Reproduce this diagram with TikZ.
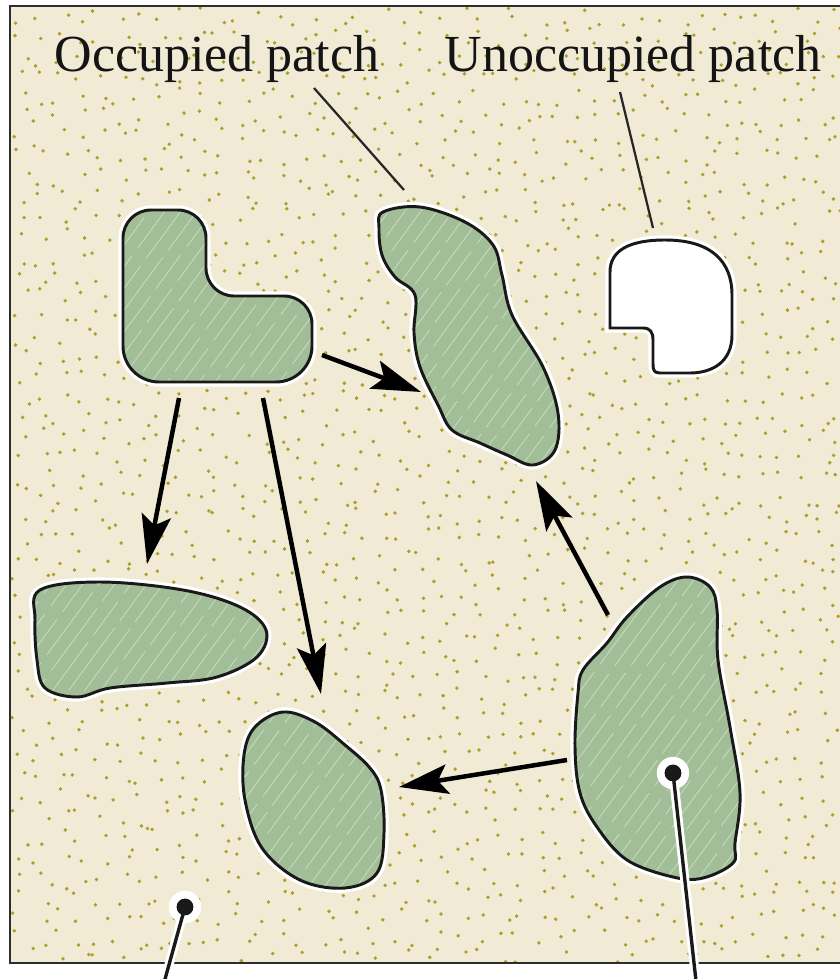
\documentclass[tikz,border=0pt]{standalone}
\usepackage{fontspec}
\setmainfont{Liberation Serif}
\usetikzlibrary{arrows.meta}
\definecolor{groundcol}{RGB}{241,235,214}
\definecolor{dotcol}{RGB}{172,158,40}
\definecolor{patchcol}{RGB}{162,190,152}
\definecolor{hatchcol}{RGB}{200,218,188}
\definecolor{framecol}{RGB}{45,45,45}
\newcommand{\greenpatch}[1]{%
  \path[halo] #1;
  \begin{scope}
    \clip #1;
    \fill[patchcol] (0,0) rectangle (840,979);
    \foreach \k in {-560,-544,...,700}{
      \pgfmathsetmacro\ph{int(70*rnd)}
      \draw[hatch, dash pattern=on 55pt off 6pt on 30pt off 7pt, dash phase=\ph pt] (\k,980) -- ++(720,-980);
    }
  \end{scope}
  \path[outline] #1;
}

\begin{document}
\begin{tikzpicture}[x=0.025cm, y=-0.025cm,
    halo/.style={draw=white, line width=6.5pt},
    outline/.style={draw=black!90, line width=2.1pt},
    hatch/.style={draw=hatchcol, line width=0.6pt},
    arr/.style={line width=3.2pt, -{Stealth[length=35pt, width=21pt, inset=7pt]}},
    leader/.style={draw=black!85, line width=1.6pt},
    lbl/.style={font=\fontsize{37}{40}\selectfont, text=black!92, inner sep=0pt, anchor=base},
]
\useasboundingbox (0,0) rectangle (840,979);
\clip (0,0) rectangle (840,979);

\fill[groundcol] (10,6) rectangle (860,963);
\begin{scope}
  \clip (10,6) rectangle (860,963);
  \pgfmathsetseed{4}
  \foreach \i in {0,...,41}
    \foreach \j in {0,...,47}
      \fill[dotcol] ({12+\i*20+18*rnd},{8+\j*20+18*rnd}) circle (1.35pt);
\end{scope}
\draw[framecol, line width=2pt] (10,6) rectangle (860,963);

\node[lbl] (occlbl) at (217,72) {Occupied patch};
\node[lbl] (unocclbl) at (633,72) {Unoccupied patch};
\coordinate (occfoot) at (314,88);
\coordinate (occtip) at (404,190);
\coordinate (unoccfoot) at (620,92);
\coordinate (unocctip) at (653,228);
\draw[leader] (occfoot) -- (occtip);
\draw[leader] (unoccfoot) -- (unocctip);

\greenpatch{(123,300) [rounded corners=0.7cm] -- (123,210) -- (206,210) -- (206,296) -- (312,296) [rounded corners=0.9cm] -- (312,382) -- (123,382) -- cycle}
\greenpatch{plot[smooth cycle, tension=0.6] coordinates {(383,212) (420,207) (465,222) (493,245) (502,275) (512,315) (543,367) (558,413) (555,450) (533,465) (507,455) (480,443) (452,430) (438,405) (420,367) (414,333) (415,295) (395,277) (382,255) (379,228)}}
\greenpatch{plot[smooth cycle, tension=0.6] coordinates {(40,590) (100,582) (183,590) (240,607) (266,630) (257,657) (217,677) (167,683) (110,688) (77,697) (45,688) (37,660) (35,620)}}
\greenpatch{plot[smooth cycle, tension=0.6] coordinates {(283,712) (315,722) (345,745) (370,768) (381,790) (384,833) (377,873) (345,888) (300,880) (262,848) (245,800) (244,755) (255,727)}}
\greenpatch{plot[smooth cycle, tension=0.6] coordinates {(687,577) (710,587) (717,610) (718,660) (730,727) (740,793) (735,843) (733,863) (703,878) (673,877) (627,860) (597,827) (580,793) (575,747) (578,693) (583,670) (607,643) (627,617) (660,587)}}

\path[halo] (610,328) -- (610,272) .. controls (610,250) and (630,240) .. (665,240) .. controls (712,240) and (732,262) .. (732,295) -- (732,335) .. controls (732,362) and (712,373) .. (690,373) -- (660,373) .. controls (654,373) and (653,370) .. (653,364) -- (653,340) .. controls (653,332) and (650,328) .. (643,328) -- cycle;
\path[outline, fill=white] (610,328) -- (610,272) .. controls (610,250) and (630,240) .. (665,240) .. controls (712,240) and (732,262) .. (732,295) -- (732,335) .. controls (732,362) and (712,373) .. (690,373) -- (660,373) .. controls (654,373) and (653,370) .. (653,364) -- (653,340) .. controls (653,332) and (650,328) .. (643,328) -- cycle;

\coordinate (Lr) at (322,355);
\coordinate (Bl) at (421,392);
\coordinate (Lb1) at (179,398);
\coordinate (Dt) at (147,564);
\coordinate (Lb2) at (263,398);
\coordinate (Et) at (321,694);
\coordinate (Ft) at (608,615);
\coordinate (Bb) at (536,481);
\coordinate (Fl) at (567,760);
\coordinate (Er) at (399,787);
\draw[arr] (Lr) -- (Bl);
\draw[arr] (Lb1) -- (Dt);
\draw[arr] (Lb2) -- (Et);
\draw[arr] (Ft) -- (Bb);
\draw[arr] (Fl) -- (Er);

\coordinate (ground) at (185,907);
\coordinate (groundend) at (162,990);
\coordinate (inpatch) at (673,773);
\coordinate (inpatchend) at (697,990);
\foreach \a/\b in {ground/groundend, inpatch/inpatchend}{
  \draw[white, line width=6.5pt] (\a) -- (\b);
  \fill[white] (\a) circle (11.5pt);
  \draw[black!90, line width=2.4pt] (\a) -- (\b);
  \fill[black!90] (\a) circle (6pt);
}
\end{tikzpicture}
\end{document}
